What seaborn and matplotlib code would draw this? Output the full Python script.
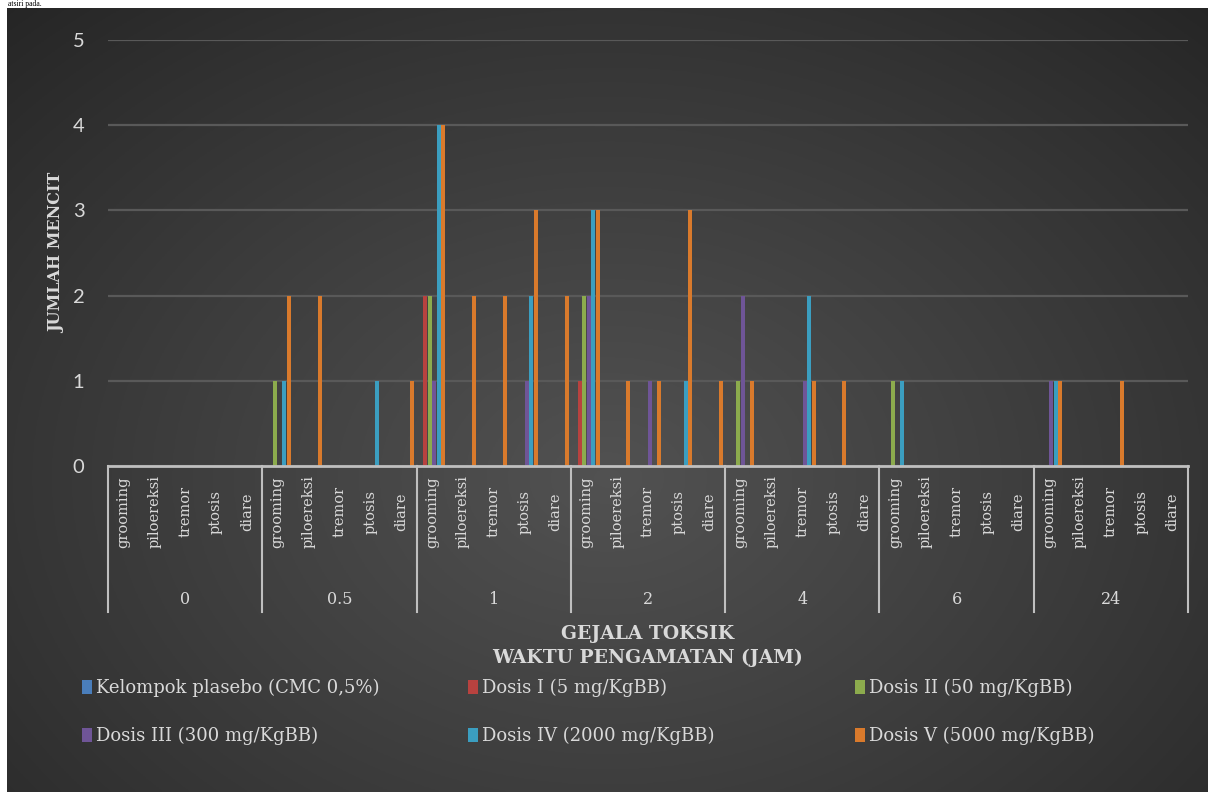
import matplotlib
matplotlib.use("Agg")
import matplotlib.pyplot as plt
import numpy as np
import pandas as pd
import seaborn as sns
from matplotlib import transforms

waktu = ["0", "0.5", "1", "2", "4", "6", "24"]
gejala = ["grooming", "piloereksi", "tremor", "ptosis", "diare"]
kelompok = ["Kelompok plasebo (CMC 0,5%)", "Dosis I (5 mg/KgBB)", "Dosis II (50 mg/KgBB)",
            "Dosis III (300 mg/KgBB)", "Dosis IV (2000 mg/KgBB)", "Dosis V (5000 mg/KgBB)"]
warna = ["#4a7ebb", "#b8423f", "#8cab4d", "#6f5597", "#3b9ec0", "#d97a2c"]

# jumlah mencit per waktu (baris) dan gejala (grooming, piloereksi, tremor, ptosis, diare)
plasebo = [0, 0, 0, 0, 0,
           0, 0, 0, 0, 0,
           0, 0, 0, 0, 0,
           0, 0, 0, 0, 0,
           0, 0, 0, 0, 0,
           0, 0, 0, 0, 0,
           0, 0, 0, 0, 0]
dosis_1 = [0, 0, 0, 0, 0,
           0, 0, 0, 0, 0,
           2, 0, 0, 0, 0,
           1, 0, 0, 0, 0,
           0, 0, 0, 0, 0,
           0, 0, 0, 0, 0,
           0, 0, 0, 0, 0]
dosis_2 = [0, 0, 0, 0, 0,
           1, 0, 0, 0, 0,
           2, 0, 0, 0, 0,
           2, 0, 0, 0, 0,
           1, 0, 0, 0, 0,
           1, 0, 0, 0, 0,
           0, 0, 0, 0, 0]
dosis_3 = [0, 0, 0, 0, 0,
           0, 0, 0, 0, 0,
           1, 0, 0, 1, 0,
           2, 0, 1, 0, 0,
           2, 0, 1, 0, 0,
           0, 0, 0, 0, 0,
           1, 0, 0, 0, 0]
dosis_4 = [0, 0, 0, 0, 0,
           1, 0, 0, 1, 0,
           4, 0, 0, 2, 0,
           3, 0, 0, 1, 0,
           0, 0, 2, 0, 0,
           1, 0, 0, 0, 0,
           1, 0, 0, 0, 0]
dosis_5 = [0, 0, 0, 0, 0,
           2, 2, 0, 0, 1,
           4, 2, 2, 3, 2,
           3, 1, 1, 3, 1,
           1, 0, 1, 1, 0,
           0, 0, 0, 0, 0,
           1, 0, 1, 0, 0]

rows = []
for k, vals in zip(kelompok, [plasebo, dosis_1, dosis_2, dosis_3, dosis_4, dosis_5]):
    for i, w in enumerate(waktu):
        for j, g in enumerate(gejala):
            rows.append({"kategori": w + "|" + g, "kelompok": k, "jumlah": vals[i * 5 + j]})
df = pd.DataFrame(rows)
urutan = [w + "|" + g for w in waktu for g in gejala]

W, H = 1208, 792
fig = plt.figure(figsize=(W / 100, H / 100), dpi=100)
fig.patch.set_facecolor("white")

# latar belakang gelap dengan gradien
bg = fig.add_axes([7 / W, 0, 1 - 7 / W, 1 - 8 / H])
yy, xx = np.mgrid[0:1:300j, 0:1:450j]
d = np.sqrt(((xx - 0.5) / 0.75) ** 2 + ((yy - 0.6) / 0.85) ** 2)
v = np.clip(1 - d, 0, 1) ** 0.9
c = 0.14 + (0.32 - 0.14) * v
bg.imshow(np.dstack([c, c, c]), aspect="auto", extent=[0, 1, 0, 1], origin="upper")
bg.set_axis_off()

serif = "DejaVu Serif"
teks = "#d9d9d9"

ax = fig.add_axes([108 / W, 1 - 466 / H, 1080 / W, 426 / H])
ax.set_facecolor("none")
sns.barplot(data=df, x="kategori", y="jumlah", hue="kelompok", order=urutan, hue_order=kelompok,
            palette=warna, width=0.875, gap=0.1, errorbar=None, saturation=1, ax=ax)
handles, labels = ax.get_legend_handles_labels()
ax.get_legend().remove()

ax.set_xlim(-0.5, len(urutan) - 0.5)
ax.set_ylim(0, 5)
ax.set_yticks([0, 1, 2, 3, 4, 5])
ax.yaxis.grid(True, color="#595959", linewidth=1.6)
ax.set_axisbelow(True)
for s in ["top", "right", "left"]:
    ax.spines[s].set_visible(False)
ax.spines["bottom"].set_color("#bfbfbf")
ax.spines["bottom"].set_linewidth(2)
ax.tick_params(axis="y", length=0, pad=17, labelcolor=teks)
for t in ax.get_yticklabels():
    t.set_fontfamily("Lato")
    t.set_fontsize(14.5)
ax.set_xticks(range(len(urutan)))
ax.set_xticklabels(gejala * len(waktu), rotation=90, family=serif, fontsize=10.5, color=teks,
                   va="center", ha="center")
ax.tick_params(axis="x", length=0, pad=33)
ax.set_xlabel("")
ax.set_ylabel("")

# garis pemisah dan label waktu
trans = transforms.blended_transform_factory(ax.transData, ax.transAxes)
y_bawah = -(612 - 466) / 426
for b in np.arange(-0.5, len(urutan), 5):
    ax.plot([b, b], [0, y_bawah], color="#bfbfbf", lw=1.5, transform=trans, clip_on=False)
for i, w in enumerate(waktu):
    ax.text(i * 5 + 2, -(599 - 466) / 426, w, transform=trans, ha="center", va="center",
            family=serif, fontsize=11.5, color=teks)

fig.text(648 / W, 1 - 646 / H, "GEJALA TOKSIK\nWAKTU PENGAMATAN (JAM)", ha="center", va="center",
         family=serif, fontweight="bold", fontsize=13.5, color=teks, linespacing=1.45)
fig.text(57 / W, 1 - 253 / H, "JUMLAH MENCIT", rotation=90, ha="center", va="center",
         family=serif, fontweight="bold", fontsize=11.5, color=teks)

# legenda: tiga kolom, dua baris
for col, x0 in enumerate([82, 468, 855]):
    fig.legend(handles=[handles[col], handles[col + 3]], labels=[labels[col], labels[col + 3]],
               loc="upper left", bbox_to_anchor=(x0 / W, 1 - 679 / H), frameon=False,
               prop={"family": serif, "size": 13}, labelcolor=teks, handlelength=0.55,
               handleheight=0.8, handletextpad=0.25, labelspacing=1.65, borderpad=0,
               borderaxespad=0)

fig.text(8 / W, 1 - 0.5 / H, "atsiri pada.", ha="left", va="top", family="Liberation Serif",
         fontsize=5.5, color="black")

fig.savefig("out.png", dpi=100, facecolor=fig.get_facecolor())
